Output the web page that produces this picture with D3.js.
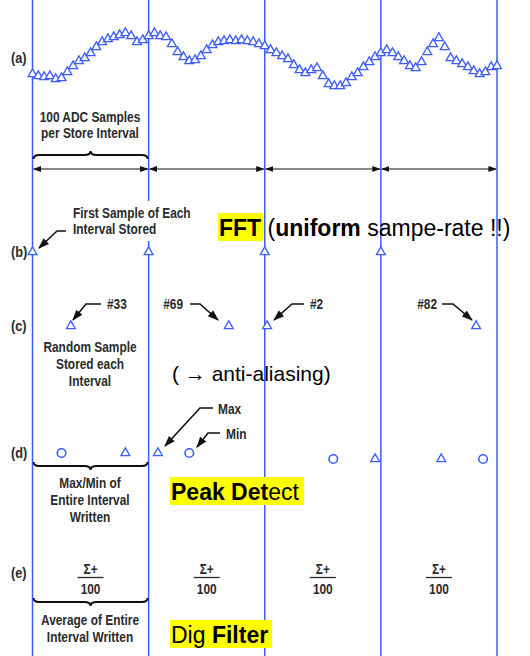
<!DOCTYPE html>
<html>
<head>
<meta charset="utf-8">
<script src="https://cdn.jsdelivr.net/npm/d3@7"></script>
<style>
  body { margin: 0; background: #fff; }
  svg { display: block; }
</style>
</head>
<body>
<svg id="chart" width="530" height="656"></svg>
<script>
// samples 0..400, every 5th ADC sample (arbitrary amplitude)
const sampleIdx = d3.range(0, 401, 5);
const waveVals = [16,14,13,14,11,12,18,24,29,32,37,43,48,51,53,55,57,54,48,50,
  54,57,54,53,46,38,33,29,30,34,40,45,48,49,50,49,50,49,48,46,
  44,40,37,34,31,25,20,17,20,22,14,6,4,4,7,13,17,23,28,33,
  37,40,37,33,29,24,22,28,38,46,52,43,32,29,26,23,19,16,18,23,24];
const intervals = [0, 100, 200, 300, 400];
const randomPick = [33, 69, 2, 82];          // sample # stored per interval
const maxPick = [80, 8, 95, 52];             // position of max within interval
const minPick = [25, 35, 59, 88];            // position of min within interval
const rowLabels = ['(a)', '(b)', '(c)', '(d)', '(e)'];

const blue = '#3d5cff', ink = '#2a2a2a';
const sans = '"Liberation Sans", Arial, sans-serif';
const svg = d3.select('#chart');

const x = d3.scaleLinear().domain([0, 400]).range([32.5, 497]);
const y = d3.scaleLinear().domain([0, 60]).range([90, 30]);

let defs = svg.append('defs');
defs.append('marker').attr('id', 'ah').attr('viewBox', '0 0 10 10')
  .attr('refX', 9).attr('refY', 5).attr('markerWidth', 7).attr('markerHeight', 7)
  .attr('orient', 'auto-start-reverse')
  .append('path').attr('d', 'M0,1.5L10,5L0,8.5Z').attr('fill', '#111');

// vertical interval lines
svg.append('g').selectAll('line').data(intervals).join('line')
  .attr('x1', d => x(d)).attr('x2', d => x(d)).attr('y1', 0).attr('y2', 656)
  .attr('stroke', blue).attr('stroke-width', 1.5);
// small break in the 2nd line near the callout
svg.append('rect').attr('x', x(100) - 2).attr('y', 201).attr('width', 4).attr('height', 40).attr('fill', '#fff');

// condensed label: a squeezed bold sans, like the scanned figure
function label(lines, x0, y0, dy, anchor, size) {
  const g = svg.append('g').attr('transform', `translate(${x0},0) scale(0.85,1)`);
  const t = g.append('text').attr('font-family', sans).attr('font-size', size || 14)
    .attr('font-weight', 'bold').attr('fill', ink).attr('text-anchor', anchor || 'middle');
  lines.forEach((s, i) => t.append('tspan').attr('x', 0).attr('y', y0 + i * dy).text(s));
}

// row labels
const labelY = [63, 257, 331, 458, 578];
rowLabels.forEach((d, i) => label([d], 11, labelY[i], 0, 'start', 15));

const tri = d3.symbol().type(d3.symbolTriangle).size(34);
function triangles(g, data, fx, fy) {
  g.selectAll('path').data(data).join('path')
    .attr('d', tri).attr('transform', (d, i) => `translate(${fx(d, i)},${fy(d, i)})`)
    .attr('fill', '#fff').attr('stroke', blue).attr('stroke-width', 1.3);
}

// (a) waveform
triangles(svg.append('g'), waveVals, (d, i) => x(sampleIdx[i]), d => y(d));

function brace(x1, x2, yy, dir) {
  // dir = -1 : middle tip up (ends point down); +1 : middle tip down
  const m = (x1 + x2) / 2, h = 4 * dir;
  const p = d3.path();
  p.moveTo(x1, yy - h);
  p.quadraticCurveTo(x1, yy, x1 + 6, yy);
  p.lineTo(m - 6, yy);
  p.quadraticCurveTo(m, yy, m, yy + h);
  p.quadraticCurveTo(m, yy, m + 6, yy);
  p.lineTo(x2 - 6, yy);
  p.quadraticCurveTo(x2, yy, x2, yy - h);
  svg.append('path').attr('d', p.toString()).attr('fill', 'none')
    .attr('stroke', '#111').attr('stroke-width', 2);
}

label(['100 ADC Samples', 'per Store Interval'], 90, 122, 16);
brace(x(0) + 1, x(100) - 1, 155, -1);

// double-headed arrows per store interval
svg.append('g').selectAll('line').data(intervals.slice(0, 4)).join('line')
  .attr('x1', d => x(d) + 1).attr('x2', d => x(d + 100) - 1)
  .attr('y1', 169).attr('y2', 169)
  .attr('stroke', '#111').attr('stroke-width', 1.2)
  .attr('marker-start', 'url(#ah)').attr('marker-end', 'url(#ah)');

function callout(pts) {
  svg.append('path').attr('d', d3.line()(pts)).attr('fill', 'none')
    .attr('stroke', '#111').attr('stroke-width', 1.6).attr('marker-end', 'url(#ah)');
}

// (b) first sample of each interval
triangles(svg.append('g'), intervals.slice(0, 4), d => x(d), () => 252);
label(['First Sample of Each', 'Interval Stored'], 73, 218, 16, 'start');
callout([[66, 231], [57, 231], [39, 248]]);

function highlight(parts, x0, yb, size) {
  const t = svg.append('text').attr('x', x0).attr('y', yb)
    .attr('font-family', sans).attr('font-size', size || 23).attr('fill', '#000');
  parts.forEach(p => t.append('tspan').attr('font-weight', p[1] ? 'bold' : 'normal').text(p[0]));
  return t;
}
function yellowBox(x0, y0, w, h) {
  svg.append('rect').attr('x', x0).attr('y', y0).attr('width', w).attr('height', h).attr('fill', '#ffff00');
}

yellowBox(218, 213, 45, 28);
highlight([['FFT', 1], [' (', 0], ['uniform', 1], [' sampe-rate !!)', 0]], 219, 236);

// (c) random sample per interval
triangles(svg.append('g'), randomPick, (d, i) => x(intervals[i] + d), () => 326);
const pickLbl = [[107, 'start'], [183, 'end'], [310, 'start'], [437, 'end']];
randomPick.forEach((d, i) => label(['#' + d], pickLbl[i][0], 309, 0, pickLbl[i][1], 14));
callout([[101, 304], [86, 304], [73, 320]]);
callout([[190, 304], [200, 304], [218, 320]]);
callout([[304, 304], [292, 304], [274, 320]]);
callout([[442, 304], [453, 304], [472, 320]]);
label(['Random Sample', 'Stored each', 'Interval'], 90, 352, 17);
highlight([['( \u2192 anti-aliasing)', 0]], 172, 381, 21);

// (d) max / min per interval
const dy = i => (i < 2 ? 453 : 459);
triangles(svg.append('g'), maxPick, (d, i) => x(intervals[i] + d), (d, i) => dy(i));
svg.append('g').selectAll('circle').data(minPick).join('circle')
  .attr('cx', (d, i) => x(intervals[i] + d)).attr('cy', (d, i) => dy(i)).attr('r', 4.3)
  .attr('fill', '#fff').attr('stroke', blue).attr('stroke-width', 1.6);
label(['Max'], 218, 414, 0, 'start');
label(['Min'], 226, 439, 0, 'start');
callout([[213, 408], [200, 408], [165, 446]]);
callout([[220, 433], [208, 433], [197, 447]]);
brace(x(0) + 1, x(100) - 1, 466, 1);
label(['Max/Min of', 'Entire Interval', 'Written'], 90, 488, 17);
yellowBox(170, 477, 134, 28);
highlight([['Peak Det', 1], ['ect', 0]], 171, 500);

// (e) average per interval
intervals.slice(0, 4).forEach(d => {
  const cx = x(d + 50);
  label(['\u03a3+'], cx, 574, 0, 'middle');
  svg.append('line').attr('x1', cx - 13).attr('x2', cx + 13).attr('y1', 577.5).attr('y2', 577.5)
    .attr('stroke', ink).attr('stroke-width', 1.3);
  label(['100'], cx, 594, 0, 'middle');
});
brace(x(0) + 1, x(100) - 1, 602, 1);
label(['Average of Entire', 'Interval Written'], 90, 625, 17);
yellowBox(170, 620, 102, 28);
highlight([['Dig ', 0], ['Filter', 1]], 171, 643);
</script>
</body>
</html>
